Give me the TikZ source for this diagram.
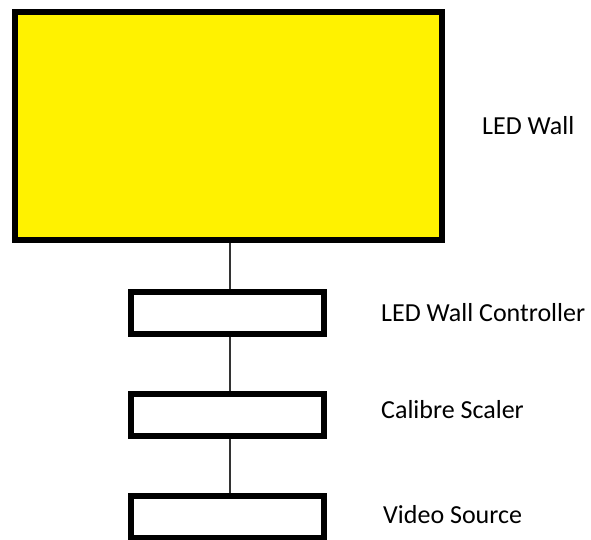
\documentclass[tikz,border=0pt]{standalone}
\usepackage{fontspec}
\setmainfont{Carlito}
\definecolor{wallyellow}{HTML}{FFF200}
\definecolor{linegray}{HTML}{333333}
\begin{document}
\begin{tikzpicture}[x=1pt,y=-1pt,
  wallbox/.style={draw=black,line width=6pt,fill=wallyellow,inner sep=0pt,
    minimum width=427pt,minimum height=228pt},
  unitbox/.style={draw=black,line width=6pt,fill=white,inner sep=0pt,
    minimum width=193pt,minimum height=42pt},
  lbl/.style={anchor=base west,inner sep=0pt,font=\fontsize{26pt}{30pt}\selectfont,text=black},
  link/.style={draw=linegray,line width=2pt}]
\useasboundingbox (0,0) rectangle (591,539);
\clip (0,0) rectangle (591,539);
\node[wallbox] (wall) at (228.5,126) {};
\node[unitbox] (ctrl) at (227.5,313) {};
\node[unitbox] (scal) at (227.5,414.5) {};
\node[unitbox] (src) at (227.5,517) {};
\draw[link] ([xshift=2.5pt]ctrl.north |- wall.south) -- ([xshift=2.5pt]ctrl.north);
\draw[link] ([xshift=2.5pt]ctrl.south) -- ([xshift=2.5pt]scal.north);
\draw[link] ([xshift=2.5pt]scal.south) -- ([xshift=2.5pt]src.north);
\node[lbl] (lwall) at (482,134) {LED Wall};
\node[lbl] (lctrl) at (381,321) {LED Wall Controller};
\node[lbl] (lscal) at (381,418) {Calibre Scaler};
\node[lbl] (lsrc) at (383,523) {Video Source};
\end{tikzpicture}
\end{document}
